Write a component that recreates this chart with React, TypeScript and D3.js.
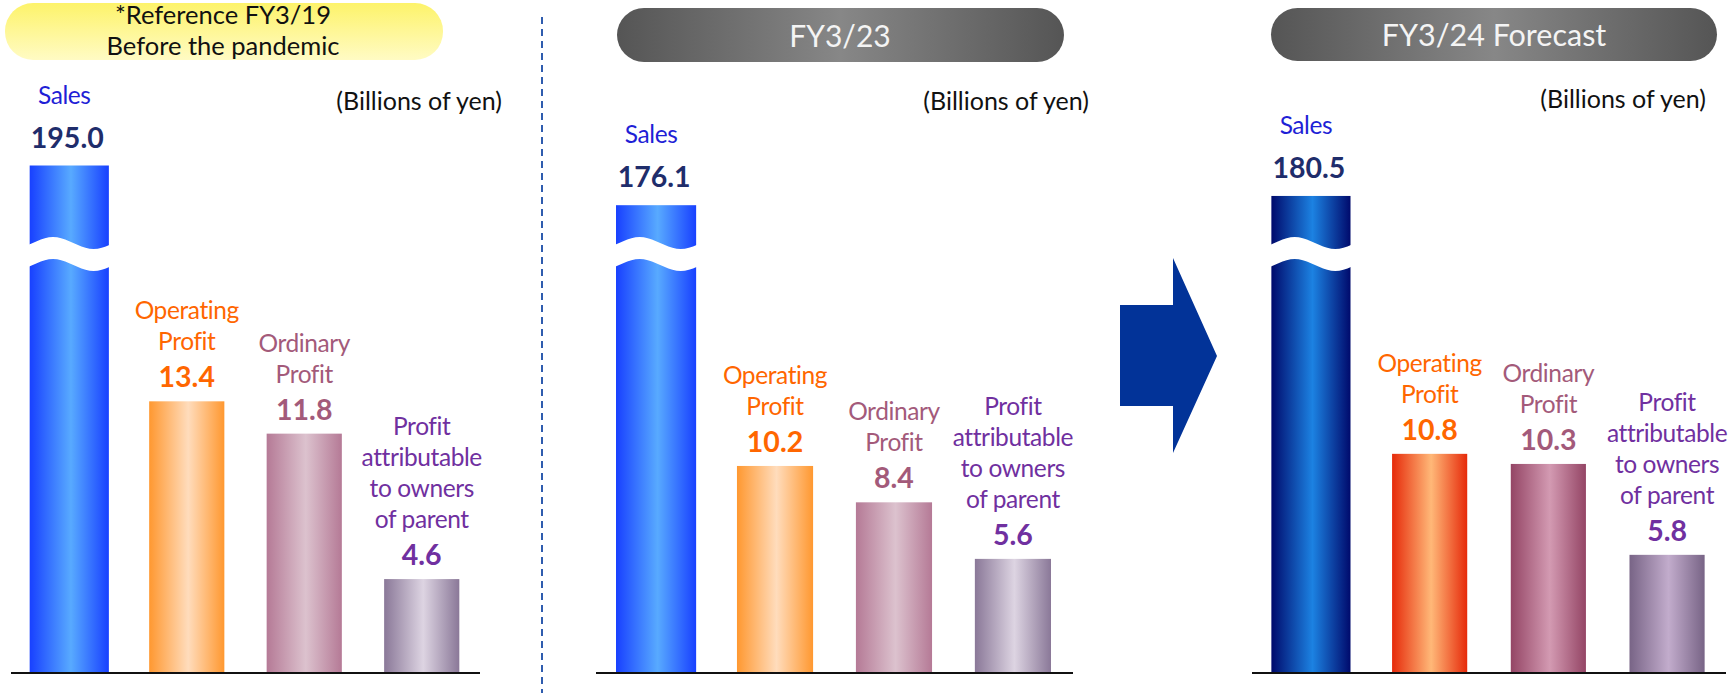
import * as d3 from 'd3'

// categories and labels
const categories = ['sales', 'operating', 'ordinary', 'profit']
const labelLines = [['Sales'], ['Operating', 'Profit'], ['Ordinary', 'Profit'], ['Profit', 'attributable', 'to owners', 'of parent']]

// values (billions of yen)
const fy19Values = [195.0, 13.4, 11.8, 4.6]
const fy23Values = [176.1, 10.2, 8.4, 5.6]
const fy24Values = [180.5, 10.8, 10.3, 5.8]

const fy19Title = ['*Reference FY3/19', 'Before the pandemic']
const fy23Title = ['FY3/23']
const fy24Title = ['FY3/24 Forecast']
const unitLabel = '(Billions of yen)'

const W = 1731
const H = 693
const baseY = 672
const FONT = 'Lato, "Open Sans", sans-serif'

const textColors = ['#1f1fd6', '#ff6600', '#a35a7a', '#7030a0']
const valueColors = ['#1f2d6b', '#ff6600', '#a35a7a', '#7030a0']

// bar gradients: [edge, center]
const lightGrad = [['#1840ff', '#58aaff'], ['#ff9830', '#ffdcbc'], ['#b57a96', '#dcc2ce'], ['#8a7898', '#ddd4e2']]
const darkGrad = [['#000a6c', '#1c82e2'], ['#e62a0a', '#ffb878'], ['#944565', '#d39ab2'], ['#786486', '#c2accc']]

// profits on a true linear scale, sales on a broken scale
const profitY = d3.scaleLinear().domain([0, 15]).range([baseY, baseY - 15 * 20.2])
const salesY = d3.scaleLinear().domain([150, 200]).range([260, 155])

const panels = [
  { id: 'p19', values: fy19Values, x0: 11, x1: 480, pad: 0.36, outer: 0.176, dark: false, unitX: 502, unitY: 110 },
  { id: 'p23', values: fy23Values, x0: 596, x1: 1073, pad: 0.36, outer: 0.185, dark: false, unitX: 1089, unitY: 110 },
  { id: 'p24', values: fy24Values, x0: 1252, x1: 1726, pad: 0.367, outer: 0.18, dark: true, unitX: 1706, unitY: 108 },
]

function wavePath(x0: number, x1: number, cy: number, amp: number) {
  return d3.range(0, 1.001, 0.05).map((t) => [x0 + t * (x1 - x0), cy - amp * Math.sin(2 * Math.PI * (t - 0.05))])
}

function Panel({ p }: { p: (typeof panels)[number] }) {
  const x = d3.scaleBand().domain(categories).range([p.x0, p.x1]).paddingInner(p.pad).paddingOuter(p.outer)
  const bw = x.bandwidth()
  const grads = p.dark ? darkGrad : lightGrad
  const line = d3.line()
  return (
    <g>
      <defs>
        {categories.map((c, i) => (
          <linearGradient key={c} id={`${p.id}-${c}`} x1="0" x2="1" y1="0" y2="0">
            <stop offset="0%" stopColor={grads[i][0]} />
            <stop offset="52%" stopColor={grads[i][1]} />
            <stop offset="100%" stopColor={grads[i][0]} />
          </linearGradient>
        ))}
      </defs>
      <line x1={p.x0} x2={p.x1} y1={baseY + 1} y2={baseY + 1} stroke="#111" strokeWidth={2} />
      {categories.map((c, i) => {
        const v = p.values[i]
        const isSales = i === 0
        const top = isSales ? salesY(v) : profitY(v)
        const bx = (x(c) as number) - (isSales ? 2 : 0)
        const w = bw + (isSales ? 4 : 0)
        const cx = bx + w / 2
        const valueBase = top - (isSales ? 18 : 14)
        const lines = labelLines[i]
        const lastBase = valueBase - (isSales ? 44 : 37)
        let wave = null
        if (isSales) {
          const topCurve = wavePath(bx - 1, bx + w + 1, 243, 6)
          const botCurve = wavePath(bx - 1, bx + w + 1, 265, 6).reverse()
          wave = <path d={line([...topCurve, ...botCurve] as [number, number][]) + 'Z'} fill="#fff" />
        }
        return (
          <g key={c}>
            <rect x={bx} y={top} width={w} height={baseY - top} fill={`url(#${p.id}-${c})`} />
            {wave}
            <text x={cx - (isSales ? 2 : 0)} y={valueBase} textAnchor="middle" fontFamily={FONT} fontWeight={700} fontSize={28.5} fill={valueColors[i]}>
              {v.toFixed(1)}
            </text>
            {lines.map((l, k) => (
              <text key={k} x={cx - (isSales ? 5 : 0)} y={lastBase - (lines.length - 1 - k) * 31} textAnchor="middle" fontFamily={FONT} fontSize={24.5} fill={textColors[i]} letterSpacing={-0.4}>
                {l}
              </text>
            ))}
          </g>
        )
      })}
      <text x={p.unitX} y={p.unitY} textAnchor="end" fontFamily={FONT} fontSize={25} fill="#111">
        {unitLabel}
      </text>
    </g>
  )
}

export default function App() {
  return (
    <svg width={W} height={H} style={{ position: 'absolute', left: 0, top: 0, background: '#fff' }}>
      <defs>
        <linearGradient id="pillYellow" x1="0" x2="0" y1="0" y2="1">
          <stop offset="0%" stopColor="#fdf36a" />
          <stop offset="100%" stopColor="#fffbc4" />
        </linearGradient>
        <linearGradient id="pillGray" x1="0" x2="1" y1="0" y2="0">
          <stop offset="0%" stopColor="#555" />
          <stop offset="50%" stopColor="#878787" />
          <stop offset="100%" stopColor="#555" />
        </linearGradient>
      </defs>
      <rect x={0} y={0} width={W} height={H} fill="#fff" />

      {/* headers */}
      <rect x={5} y={3} width={438} height={57} rx={28} fill="url(#pillYellow)" />
      {fy19Title.map((t, k) => (
        <text key={k} x={223} y={24 + k * 31} textAnchor="middle" fontFamily={FONT} fontSize={25.5} fill="#111">
          {t}
        </text>
      ))}
      <rect x={617} y={8} width={447} height={54} rx={27} fill="url(#pillGray)" />
      <text x={840} y={47} textAnchor="middle" fontFamily={FONT} fontSize={30} fill="#f4f4f4">
        {fy23Title[0]}
      </text>
      <rect x={1271} y={8} width={446} height={53} rx={26.5} fill="url(#pillGray)" />
      <text x={1494} y={46} textAnchor="middle" fontFamily={FONT} fontSize={30.5} fill="#f4f4f4">
        {fy24Title[0]}
      </text>

      {/* separator */}
      <line x1={542} x2={542} y1={17} y2={H} stroke="#2f5cae" strokeWidth={2} strokeDasharray="7 5" />

      {/* arrow */}
      <path d="M1120,305 L1173,305 L1173,258 L1217,356 L1173,453 L1173,406 L1120,406 Z" fill="#023398" />

      {panels.map((p) => (
        <Panel key={p.id} p={p} />
      ))}
    </svg>
  )
}
